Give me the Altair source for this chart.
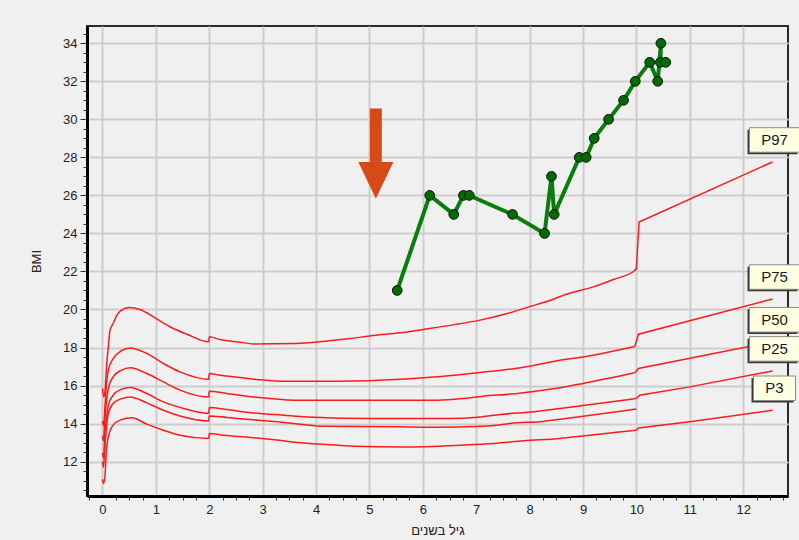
import altair as alt
import pandas as pd

# ---- reference percentile curves (age in years, BMI) ----
p97_x = [0, 0.02, 0.05, 0.06, 0.08, 0.11, 0.14, 0.2, 0.27, 0.35, 0.5, 0.7, 1.0, 1.27, 1.58, 1.99,
         2.0, 2.2, 2.58, 2.83, 3.64, 4.07, 4.64, 5.07, 5.57, 6.01, 6.57, 7.07, 7.6, 8.0, 8.35, 8.69,
         9.19, 9.57, 9.97, 10.0, 10.05, 12.55]
p97_y = [15.85, 15.4, 15.76, 16.28, 17.16, 18.03, 18.91, 19.26, 19.7, 19.95, 20.1, 20.0, 19.53, 19.08,
         18.7, 18.3, 18.56, 18.42, 18.28, 18.19, 18.21, 18.3, 18.47, 18.63, 18.77, 18.95, 19.19, 19.44,
         19.8, 20.15, 20.45, 20.8, 21.19, 21.58, 22.05, 22.15, 24.6, 27.76]

p75_x = [0, 0.02, 0.05, 0.07, 0.11, 0.2, 0.35, 0.52, 0.83, 1.14, 1.45, 1.99, 2.0, 2.2, 2.58, 2.89,
         3.33, 4.45, 5.58, 6.07, 6.58, 7.08, 7.57, 8.0, 8.57, 9.0, 9.97, 10.04, 12.55]
p75_y = [14.14, 13.9, 15.06, 15.93, 16.81, 17.42, 17.82, 17.98, 17.69, 17.16, 16.72, 16.33, 16.63,
         16.54, 16.42, 16.32, 16.23, 16.23, 16.33, 16.42, 16.54, 16.69, 16.84, 17.02, 17.33, 17.5,
         18.05, 18.7, 20.55]

p50_x = [0, 0.02, 0.04, 0.07, 0.11, 0.2, 0.35, 0.52, 0.83, 1.14, 1.45, 1.99, 2.0, 2.33, 2.7, 3.14,
         3.61, 4.96, 6.27, 6.77, 7.14, 7.64, 8.08, 8.57, 9.0, 9.97, 10.04, 12.55]
p50_y = [13.34, 13.1, 14.1, 15.06, 15.85, 16.46, 16.8, 16.93, 16.63, 16.19, 15.76, 15.4, 15.7, 15.58,
         15.44, 15.32, 15.23, 15.23, 15.23, 15.32, 15.44, 15.55, 15.69, 15.88, 16.11, 16.67, 16.9, 18.3]

p25_x = [0, 0.02, 0.04, 0.07, 0.11, 0.2, 0.35, 0.52, 0.83, 1.14, 1.45, 1.99, 2.0, 2.33, 2.83, 3.39,
         3.83, 5.08, 6.46, 7.08, 7.46, 8.08, 8.57, 9.0, 10.0, 10.06, 11.0, 12.55]
p25_y = [12.46, 12.2, 13.3, 14.18, 14.97, 15.49, 15.8, 15.9, 15.58, 15.14, 14.85, 14.53, 14.85, 14.74,
         14.56, 14.44, 14.35, 14.27, 14.27, 14.35, 14.48, 14.62, 14.79, 14.95, 15.32, 15.49, 15.93, 16.77]

p10_x = [0, 0.02, 0.04, 0.07, 0.11, 0.2, 0.35, 0.52, 0.83, 1.14, 1.45, 1.99, 2.0, 2.33, 2.77, 3.27,
         3.7, 4.14, 5.58, 6.2, 7.14, 7.77, 8.2, 8.57, 9.0, 10.0]
p10_y = [11.99, 11.7, 12.6, 13.65, 14.53, 15.06, 15.3, 15.4, 15.09, 14.7, 14.4, 14.14, 14.4, 14.32,
         14.21, 14.09, 13.97, 13.86, 13.83, 13.8, 13.86, 14.04, 14.1, 14.23, 14.39, 14.76]

p3_x = [0, 0.02, 0.05, 0.07, 0.11, 0.2, 0.35, 0.55, 0.83, 1.14, 1.45, 1.99, 2.0, 2.27, 2.77, 3.27,
        3.7, 4.2, 4.7, 5.64, 6.7, 7.33, 7.89, 8.57, 9.0, 10.0, 10.04, 11.0, 12.55]
p3_y = [11.06, 10.85, 11.38, 12.43, 13.3, 13.92, 14.2, 14.3, 13.97, 13.65, 13.39, 13.22, 13.48, 13.39,
        13.27, 13.13, 12.99, 12.9, 12.81, 12.77, 12.86, 12.95, 13.09, 13.22, 13.35, 13.65, 13.77,
        14.09, 14.7]

# ---- patient measurements (drawing order) ----
patient_age = [5.52, 6.13, 6.58, 6.76, 6.87, 7.68, 8.28, 8.41, 8.46, 8.93, 9.06, 9.21, 9.48, 9.76,
               9.98, 10.25, 10.40, 10.46, 10.45, 10.55]
patient_bmi = [21, 26, 25, 26, 26, 25, 24, 27, 25, 28, 28, 29, 30, 31, 32, 33, 32, 34, 33, 33]

# ---- labelled curves ----
label_names = ["P97", "P75", "P50", "P25", "P3"]

# ---- annotation arrow ----
arrow_age = [5.12]
arrow_top = [30.57]
arrow_head = [27.76]

curves = {"P97": (p97_x, p97_y), "P75": (p75_x, p75_y), "P50": (p50_x, p50_y),
          "P25": (p25_x, p25_y), "P10": (p10_x, p10_y), "P3": (p3_x, p3_y)}
rows = []
for name, (xs, ys) in curves.items():
    for i, (a, b) in enumerate(zip(xs, ys)):
        rows.append({"curve": name, "age": a, "bmi": b, "i": i})
ref_df = pd.DataFrame(rows)

pat_df = pd.DataFrame({"age": patient_age, "bmi": patient_bmi, "seq": list(range(len(patient_age)))})

lab_df = pd.DataFrame({"label": label_names,
                       "age": [curves[n][0][-1] for n in label_names],
                       "bmi": [curves[n][1][-1] for n in label_names]})

arrow_df = pd.DataFrame({"age": arrow_age, "bmi": arrow_top, "bmi2": arrow_head})

FONT = "Liberation Sans, Arial, DejaVu Sans"

xs_scale = alt.Scale(domain=[-0.29, 12.84], nice=False, zero=False)
ys_scale = alt.Scale(domain=[10.19, 34.91], nice=False, zero=False)

x_axis = alt.Axis(
    values=[k * 0.25 for k in range(-1, 52)],
    labelExpr="datum.value % 1 == 0 ? format(datum.value, 'd') : ''",
    labelOverlap=False, labelFlush=False,
    gridColor={"condition": {"test": "datum.value % 1 == 0", "value": "#cdcdcd"}, "value": "transparent"},
    tickColor={"condition": {"test": "datum.value % 1 == 0", "value": "transparent"}, "value": "#333333"},
    tickSize=4, labelPadding=3,
    title="גיל בשנים", titleX=350.5, titleY=34, titleBaseline="middle",
)
y_axis = alt.Axis(
    values=[10.5 + k * 0.5 for k in range(49)],
    labelExpr="datum.value % 2 == 0 ? format(datum.value, 'd') : ''",
    labelOverlap=False, labelFlush=False,
    gridColor={"condition": {"test": "datum.value % 2 == 0", "value": "#cdcdcd"}, "value": "transparent"},
    tickSize={"condition": {"test": "datum.value % 2 == 0", "value": 7}, "value": 4},
    labelPadding=3,
    title="BMI", titleX=-51, titleY=235, titleBaseline="middle", titleAngle=-90,
)

X = alt.X("age:Q", scale=xs_scale, axis=x_axis)
Y = alt.Y("bmi:Q", scale=ys_scale, axis=y_axis)

# smooth part of the curves up to age 10, straight segments after the age-10 change of reference
ref_early = alt.Chart(ref_df).transform_filter("datum.age <= 10.0").mark_line(
    color="#ff1a1a", strokeWidth=1.5, interpolate="monotone").encode(
    x=X, y=Y, detail="curve:N", order="i:Q")
ref_late = alt.Chart(ref_df).transform_filter("datum.age >= 9.95").mark_line(
    color="#ff1a1a", strokeWidth=1.5, interpolate="linear").encode(
    x=X, y=Y, detail="curve:N", order="i:Q")

pat_line = alt.Chart(pat_df).mark_line(color="#0a7d0a", strokeWidth=4).encode(
    x=X, y=Y, order="seq:Q")
pat_pts = alt.Chart(pat_df).mark_point(shape="circle", filled=True, fill="#006b00", stroke="#111111",
                                       strokeWidth=1, opacity=1, size=95).encode(x=X, y=Y)

shaft = alt.Chart(arrow_df).mark_rule(color="#d54a17", strokeWidth=12, strokeCap="butt").encode(
    x=X, y=Y, y2="bmi2:Q")
head = alt.Chart(arrow_df).mark_point(shape="M-1,0L1,0L0,2.1Z", size=1225, filled=True,
                                      fill="#d54a17", opacity=1, strokeWidth=0).encode(
    x=X, y=alt.Y("bmi2:Q", scale=ys_scale, axis=y_axis))

# box outlines sized from label length
paths = []
for n in label_names:
    w = 26 + 8 * len(n)
    hw = w / 50.0
    paths.append(f"M{-hw},-0.49H{hw}V0.49H{-hw}Z")
shape_enc = alt.Shape("label:N", scale=alt.Scale(domain=label_names, range=paths), legend=None)

box_shadow = alt.Chart(lab_df).mark_point(filled=True, fill="#3a3a3a", opacity=1, size=2500,
                                          strokeWidth=0, xOffset=0, yOffset=-20).encode(
    x=X, y=Y, shape=shape_enc)
box = alt.Chart(lab_df).mark_point(filled=True, fill="#ffffe1", stroke="#8a8a8a", strokeWidth=1,
                                   opacity=1, size=2500, xOffset=2, yOffset=-22).encode(
    x=X, y=Y, shape=shape_enc)
box_text = alt.Chart(lab_df).mark_text(font=FONT, fontSize=15, color="#1a1a1a", dx=2, dy=-22,
                                       align="center", baseline="middle").encode(
    x=X, y=Y, text="label:N")

chart = alt.layer(ref_early, ref_late, pat_line, pat_pts, shaft, head, box_shadow, box, box_text).properties(
    width=701, height=470,
    background="#f0f0f0",
    padding={"left": 87, "top": 26, "right": 11, "bottom": 44},
    autosize=alt.AutoSizeParams(type="none"),
).configure_view(
    fill="#f0f0f0", stroke="#2a2a2a", strokeWidth=2,
).configure_axis(
    domainColor="#000000", domainWidth=3,
    gridWidth=2,
    labelFont=FONT, labelFontSize=13, labelColor="#222222",
    titleFont=FONT, titleFontSize=13, titleColor="#222222", titleFontWeight="normal",
    tickColor="#333333", tickWidth=1,
)

chart.save("out.html", embed_options={"renderer": "svg", "actions": False})
